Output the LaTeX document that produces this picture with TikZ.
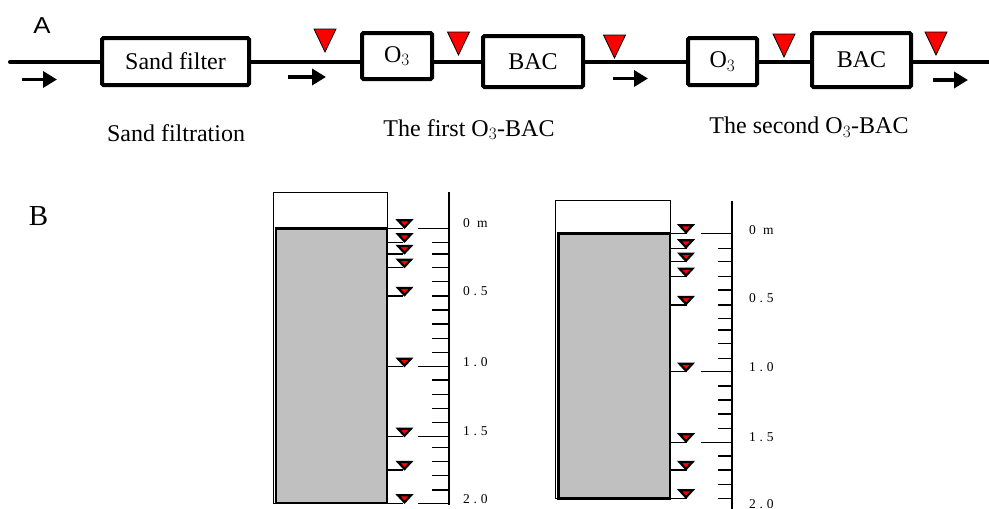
\documentclass[tikz,border=0pt]{standalone}
\usepackage{fontspec}
\setmainfont{Liberation Serif}
\newfontfamily\arialf{Liberation Sans}
\usetikzlibrary{arrows.meta}
\definecolor{colgray}{RGB}{192,192,192}
\definecolor{tired}{RGB}{255,0,0}
\begin{document}
\begin{tikzpicture}[x=1pt,y=-1pt,
  box/.style={draw, line width=4pt, rounded corners=1.5pt, fill=white, inner sep=0pt,
    font=\fontsize{24}{28}\selectfont},
  pipe/.style={line width=4pt, line cap=round},
  flow/.style={line width=3.5pt, -{Triangle[length=14pt,width=16pt]}},
  lbl/.style={font=\fontsize{24}{28}\selectfont, inner sep=0pt},
  scl/.style={font=\fontsize{13.5}{15}\selectfont\addfontfeature{LetterSpace=28}, inner sep=0pt, anchor=west},
  thinline/.style={line width=1.1pt},
  bigtri/.pic={\draw[fill=tired, line width=0.8pt, line join=miter] (-11,-23) -- (11,-23) -- (0,0) -- cycle;},
  smalltri/.pic={\draw[fill=tired, line width=2.2pt, line join=miter] (-6.5,-8) -- (6.5,-8) -- (0,-1) -- cycle;}
]
\useasboundingbox (0,0) rectangle (989,509);

% ---------- Part A ----------
\node[font=\arialf\fontsize{23}{25}\selectfont, inner sep=0pt, xscale=1.12, transform shape] (labA) at (42,26) {A};

\coordinate (in) at (10,62);
\coordinate (out) at (992,62);
\node[box, minimum width=147pt, minimum height=47pt] (sf) at (175.5,61.5) {Sand filter};
\node[box, minimum width=70pt, minimum height=46pt] (oz1) at (397,56) {O$_3$};
\node[box, minimum width=100pt, minimum height=51pt] (bac1) at (533,61.5) {BAC};
\node[box, minimum width=69pt, minimum height=47pt] (oz2) at (722.5,61.5) {O$_3$};
\node[box, minimum width=99pt, minimum height=54pt] (bac2) at (861.5,60) {BAC};

\draw[pipe] (in) -- (sf.west |- in);
\draw[pipe, line cap=butt] (sf.east |- in) -- (oz1.west |- in);
\draw[pipe, line cap=butt] (oz1.east |- in) -- (bac1.west |- in);
\draw[pipe, line cap=butt] (bac1.east |- in) -- (oz2.west |- in);
\draw[pipe, line cap=butt] (oz2.east |- in) -- (bac2.west |- in);
\draw[pipe, line cap=butt] (bac2.east |- in) -- (out);

% flow arrows
\coordinate (f1a) at (22,79.5); \coordinate (f1b) at (57,79.5);
\coordinate (f2a) at (288,77); \coordinate (f2b) at (326,77);
\coordinate (f3a) at (613,78.5); \coordinate (f3b) at (648,78.5);
\coordinate (f4a) at (933,80); \coordinate (f4b) at (968,80);
\draw[flow] (f1a) -- (f1b);
\draw[flow] (f2a) -- (f2b);
\draw[flow] (f3a) -- (f3b);
\draw[flow] (f4a) -- (f4b);

% sampling points
\pic at (325,52) {bigtri};
\pic at (458.5,55) {bigtri};
\pic at (614.5,58) {bigtri};
\pic at (784,57) {bigtri};
\pic at (936,55) {bigtri};

\node[lbl] (t1) at (176,133) {Sand filtration};
\node[lbl] (t2) at (469,129.5) {The first O$_3$-BAC};
\node[lbl] (t3) at (809,127.5) {The second O$_3$-BAC};

% ---------- Part B ----------
\node[font=\fontsize{29}{32}\selectfont, inner sep=0pt] (labB) at (38.5,216) {B};

% column 1
\draw[line width=0.9pt] (273,192) rectangle (387,503);
\draw[fill=colgray, line width=2.8pt] (276,228.3) rectangle (387,503);
\draw[line width=1.3pt] (449,192) -- (449,505);
\foreach \y in {242.3,254,267.7,281.7,296,310,324,338.3,352.3,380,394.3,408.3,422.3,447.7,461.7,475.7,490}
  \draw[thinline] (432,\y) -- (449,\y);
\foreach \y in {228.3,366.7,436.7,503.3}
  \draw[thinline] (418,\y) -- (449,\y);
\foreach \y in {228.3,242.3,254,267.7,296,366.7,436.7,470,503.3}{
  \draw[thinline] (387,\y) -- (403,\y);
  \pic at (404.5,\y) {smalltri};
}
\node[scl] (c1l0) at (463,223) {0 m};
\node[scl] (c1l1) at (463,291) {0.5};
\node[scl] (c1l2) at (463,362) {1.0};
\node[scl] (c1l3) at (463,431) {1.5};
\node[scl] (c1l4) at (463,499) {2.0};

% column 2
\draw[line width=0.9pt] (555.7,200.7) rectangle (670,498.3);
\draw[fill=colgray, line width=2.8pt] (558.5,233.3) rectangle (670,498.3);
\draw[line width=1.3pt] (732,201) -- (732,509);
\foreach \y in {248.3,261.7,276.7,290,305,318.3,330,343.3,358.3,386,400,414,428.3,456,470,484.3,498.3}
  \draw[thinline] (718,\y) -- (732,\y);
\foreach \y in {233.3,371.7,442.3}
  \draw[thinline] (701,\y) -- (732,\y);
\foreach \y in {233.3,248.3,261.7,276.7,305,371.7,442.3,470,498.3}{
  \draw[thinline] (670,\y) -- (687,\y);
  \pic at (686,\y) {smalltri};
}
\node[scl] (c2l0) at (749,230) {0 m};
\node[scl] (c2l1) at (749,298) {0.5};
\node[scl] (c2l2) at (749,367) {1.0};
\node[scl] (c2l3) at (749,437) {1.5};
\node[scl] (c2l4) at (749,504) {2.0};
\end{tikzpicture}
\end{document}
